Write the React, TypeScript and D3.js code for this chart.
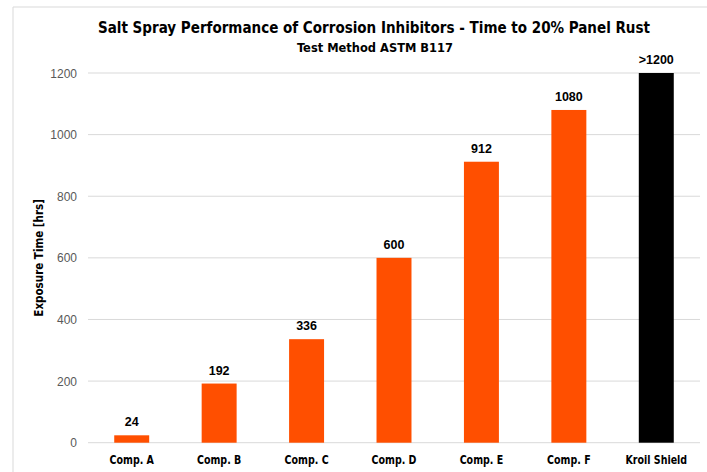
import React from 'react';
import * as d3 from 'd3';

const categories = ['Comp. A', 'Comp. B', 'Comp. C', 'Comp. D', 'Comp. E', 'Comp. F', 'Kroil Shield'];
const hours = [24, 192, 336, 600, 912, 1080, 1200];
const valueLabels = ['24', '192', '336', '600', '912', '1080', '>1200'];
const barColors = ['#FF4F00', '#FF4F00', '#FF4F00', '#FF4F00', '#FF4F00', '#FF4F00', '#000000'];
const yTicks = [0, 200, 400, 600, 800, 1000, 1200];

const W = 707;
const H = 472;
const margin = { top: 73, right: 7, bottom: 30, left: 88 };

const narrow = '"Liberation Sans Narrow", "DejaVu Sans Condensed", "Roboto", sans-serif';
const plain = '"Liberation Sans", Arial, sans-serif';

const App: React.FC = () => {
  const x = d3.scaleBand<string>()
    .domain(categories)
    .range([margin.left, W - margin.right])
    .paddingInner(0.6)
    .paddingOuter(0.3);

  const y = d3.scaleLinear()
    .domain([0, 1200])
    .range([H - margin.bottom + 0.7, margin.top]);

  return (
    <svg width={W} height={H} style={{ position: 'absolute', left: 0, top: 0, background: '#fff' }}>
      {/* chart border (cropped) */}
      <line x1={13} y1={7} x2={W} y2={7} stroke="#d9d9d9" />
      <line x1={13} y1={7} x2={13} y2={H} stroke="#d9d9d9" />

      <text x={374} y={33} textAnchor="middle" fontFamily={narrow} fontWeight="bold" fontSize={16.5}
        textLength={552} lengthAdjust="spacingAndGlyphs" fill="#000">
        Salt Spray Performance of Corrosion Inhibitors - Time to 20% Panel Rust
      </text>
      <text x={375} y={52} textAnchor="middle" fontFamily={narrow} fontWeight="bold" fontSize={12}
        textLength={156} lengthAdjust="spacingAndGlyphs" fill="#000">
        Test Method ASTM B117
      </text>

      {yTicks.map(t => (
        <g key={t}>
          <line x1={margin.left} x2={W - margin.right} y1={y(t)} y2={y(t)} stroke="#d9d9d9" strokeWidth={1} />
          <text x={77} y={y(t) + 4.5} textAnchor="end" fontFamily={plain} fontSize={12} fill="#595959">{t}</text>
        </g>
      ))}

      {categories.map((c, i) => {
        const cx = x(c)! + x.bandwidth() / 2;
        return (
          <g key={c}>
            <rect x={x(c)} y={y(hours[i])} width={x.bandwidth()} height={y(0) - y(hours[i])} fill={barColors[i]} />
            <text x={cx} y={y(hours[i]) - 9} textAnchor="middle"
              fontFamily={plain} fontWeight="bold" fontSize={12.5} fill="#000">{valueLabels[i]}</text>
            <text transform={`translate(${cx}, 464) scale(0.88, 1)`} textAnchor="middle"
              fontFamily={narrow} fontWeight="bold" fontSize={12} fill="#000">{c}</text>
          </g>
        );
      })}

      <text transform={`translate(43, ${(y(0) + y(1200)) / 2}) rotate(-90)`} textAnchor="middle"
        fontFamily={narrow} fontWeight="bold" fontSize={11.5} fill="#000">
        Exposure Time [hrs]
      </text>
    </svg>
  );
};

export default App;
